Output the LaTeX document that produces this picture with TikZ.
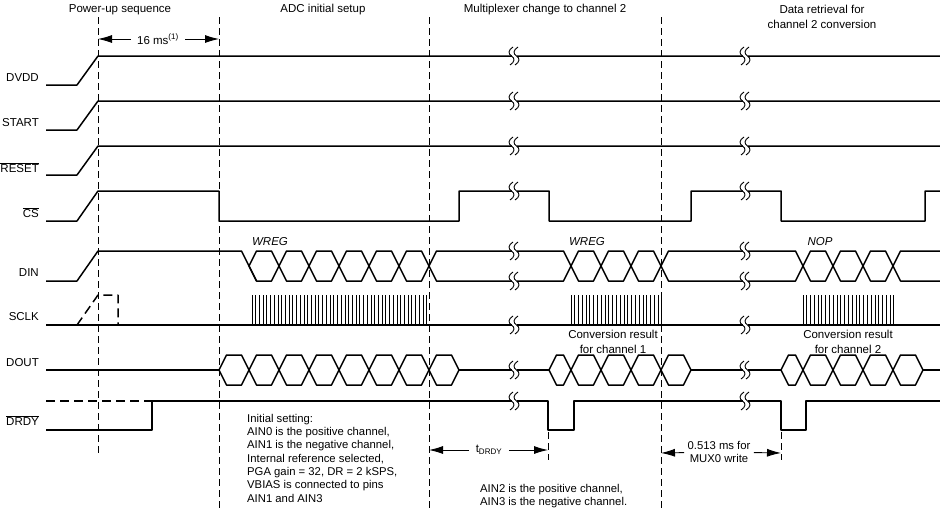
\documentclass[tikz,border=0pt]{standalone}
\usepackage{fontspec}
\setmainfont{Liberation Sans}
\usetikzlibrary{arrows.meta}

\begin{document}
\begin{tikzpicture}[
    x=1pt, y=-1pt,
    font=\fontsize{11.5}{14}\selectfont,
    wave/.style={line width=1.5pt, line join=round},
    dashwave/.style={wave, dash pattern=on 9pt off 5pt},
    clk/.style={line width=1pt},
    guide/.style={line width=0.8pt, dash pattern=on 7pt off 4pt},
    dim/.style={-{Latex[length=14pt, width=8pt]}, line width=0.9pt},
    lbl/.style={anchor=east, inner sep=0pt},
    head/.style={align=center, inner sep=0pt, font=\fontsize{11.5}{15}\selectfont},
    cmd/.style={inner sep=0pt, font=\fontsize{11.5}{14}\selectfont\itshape},
    note/.style={align=left, anchor=north west, inner sep=0pt, font=\fontsize{11.3}{13.3}\selectfont},
    brk/.pic={
        \fill[white] (-2.5,-8) rectangle (2.5,8);
        \foreach \d in {-2.5,2.5}
            \draw[line width=0.9pt, xshift=\d] (1.5,-9) .. controls (-3.5,-6) and (-3.5,-2) .. (0,0)
                .. controls (3.5,2) and (3.5,6) .. (-1.5,9);
    }
]
    \useasboundingbox (0,0) rectangle (940,509);

    % Phase headings
    \node[head] (hpower) at (120,10) {Power-up sequence};
    \node[head] (hsetup) at (323,10) {ADC initial setup};
    \node[head] (hmux) at (545,10) {Multiplexer change to channel 2};
    \node[head] (hread) at (822,16.5) {Data retrieval for\\channel 2 conversion};

    % Signal names
    \node[lbl] (ldvdd) at (39,78) {DVDD};
    \node[lbl] (lstart) at (39,123) {START};
    \node[lbl] (lreset) at (39,168) {$\overline{\mbox{RESET}}$};
    \node[lbl] (lcs) at (39,213) {$\overline{\mbox{CS}}$};
    \node[lbl] (ldin) at (39,273) {DIN};
    \node[lbl] (lsclk) at (39,317) {SCLK};
    \node[lbl] (ldout) at (39,363) {DOUT};
    \node[lbl] (ldrdy) at (39,421) {$\overline{\mbox{DRDY}}$};

    % Guide lines
    \draw[guide] (98,17) -- (98,453);
    \draw[guide] (219,17) -- (219,509);
    \draw[guide] (429,17) -- (429,509);
    \draw[guide] (661,17) -- (661,509);
    \draw[guide] (548,432) -- (548,460);
    \draw[guide] (781,432) -- (781,460);

    % Supplies and control lines
    \draw[wave] (46,85) -- (77,85) -- (98,56) -- (940,56);
    \draw[wave] (46,130) -- (77,130) -- (98,101) -- (940,101);
    \draw[wave] (46,175) -- (77,175) -- (98,146) -- (940,146);
    \draw[wave] (46,221) -- (77,221) -- (98,191) -- (219,191) -- (219,221) -- (459,221) -- (459,191)
        -- (549,191) -- (549,221) -- (691,221) -- (691,191) -- (781,191) -- (781,221) -- (925,221)
        -- (925,191) -- (940,191);

    % DIN
    \draw[wave] (46,281) -- (77,281) -- (98,251) -- (241.5,251) -- (256.5,281);
    \foreach \a/\b in {249/279,279/309,309/339,339/369,369/399,399/429,429/571,571/601,601/631,
                       631/661,661/803,803/833,833/863,863/893}
        \draw[wave] (\a,266) -- (\a+7.5,251) -- (\b-7.5,251) -- (\b,266) -- (\b-7.5,281) -- (\a+7.5,281) -- cycle;
    \draw[wave] (940,251) -- (900.5,251) -- (893,266) -- (900.5,281) -- (940,281);
    \node[cmd] (wreg1) at (270,242) {WREG};
    \node[cmd] (wreg2) at (587,242) {WREG};
    \node[cmd] (nop) at (820,242) {NOP};

    % SCLK
    \draw[wave] (46,325) -- (940,325);
    \draw[dashwave] (77,325) -- (98,295) -- (118,295) -- (118,325);
    \foreach \i in {0,...,47}
        \draw[clk] ({252+\i*3.72},325) -- ({252+\i*3.72},295);
    \foreach \i in {0,...,24} {
        \draw[clk] ({571+\i*3.79},325) -- ({571+\i*3.79},295);
        \draw[clk] ({803+\i*3.79},325) -- ({803+\i*3.79},295);
    }

    % DOUT
    \draw[wave] (46,370) -- (219,370);
    \draw[wave] (459,370) -- (549,370);
    \draw[wave] (691,370) -- (781,370);
    \draw[wave] (923,370) -- (940,370);
    \foreach \a/\b in {219/249,249/279,279/309,309/339,339/369,369/399,399/429,429/459,
                       549/571,571/601,601/631,631/661,661/691,781/803,803/833,833/863,863/893,893/923}
        \draw[wave] (\a,370) -- (\a+7.5,355) -- (\b-7.5,355) -- (\b,370) -- (\b-7.5,385) -- (\a+7.5,385) -- cycle;
    \node[head] (res1) at (613,342) {Conversion result\\for channel 1};
    \node[head] (res2) at (848,342) {Conversion result\\for channel 2};

    % DRDY
    \draw[dashwave] (46,401) -- (152,401);
    \draw[wave] (46,430) -- (152,430) -- (152,401) -- (548,401) -- (548,430) -- (574,430) -- (574,401)
        -- (781,401) -- (781,430) -- (806,430) -- (806,401) -- (940,401);

    % Breaks
    \foreach \x in {514,745}
        \foreach \y in {56,101,146,191,251,281,325,370,401}
            \pic at (\x,\y) {brk};

    % Timing marks
    \node (ms) at (158,39) {16 ms\textsuperscript{(1)}};
    \coordinate (msL) at (98,39);
    \coordinate (msR) at (219,39);
    \draw[dim, shorten <=3pt] (ms) -- (msL);
    \draw[dim, shorten <=3pt] (ms) -- (msR);

    \node (tdrdy) at (489,450) {t\textsubscript{DRDY}};
    \coordinate (tdL) at (429,450);
    \coordinate (tdR) at (548,450);
    \draw[dim, shorten <=3pt] (tdrdy) -- (tdL);
    \draw[dim, shorten <=3pt] (tdrdy) -- (tdR);

    \node[align=center, font=\fontsize{11.3}{13}\selectfont] (mux0) at (719,452) {0.513 ms for\\MUX0 write};
    \coordinate (muxL) at (661,453);
    \coordinate (muxR) at (781,453);
    \draw[dim] (mux0) -- (muxL);
    \draw[dim] (mux0) -- (muxR);

    % Notes
    \node[note] (init) at (247,414) {Initial setting:\\AIN0 is the positive channel,\\AIN1 is the negative channel,\\
        Internal reference selected,\\PGA gain = 32, DR = 2 kSPS,\\VBIAS is connected to pins\\AIN1 and AIN3};
    \node[note] (chan2) at (480,484) {AIN2 is the positive channel,\\AIN3 is the negative channel.};
\end{tikzpicture}
\end{document}
